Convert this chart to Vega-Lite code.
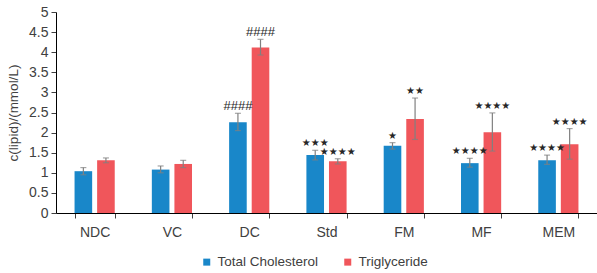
{
  "$schema": "https://vega.github.io/schema/vega-lite/v6.json",
  "width": 541,
  "height": 201,
  "autosize": "none",
  "padding": {"left": 56, "top": 12, "right": 0, "bottom": 60},
  "background": "white",
  "config": {
    "view": {"stroke": null},
    "font": "Liberation Sans",
    "axis": {"grid": false, "domainColor": "#000000", "tickColor": "#404040", "labelColor": "#404040", "titleColor": "#404040", "labelFontSize": 14, "titleFontSize": 13.5, "titleFontWeight": "normal", "labelFont": "Liberation Sans", "titleFont": "Liberation Sans"}
  },
  "data": {
    "values": [
      {"group": "NDC", "series": "Total Cholesterol", "value": 1.04, "lo": 0.95, "hi": 1.13, "mark": ""},
      {"group": "NDC", "series": "Triglyceride", "value": 1.31, "lo": 1.25, "hi": 1.37, "mark": ""},
      {"group": "VC", "series": "Total Cholesterol", "value": 1.08, "lo": 1.0, "hi": 1.17, "mark": ""},
      {"group": "VC", "series": "Triglyceride", "value": 1.22, "lo": 1.13, "hi": 1.31, "mark": ""},
      {"group": "DC", "series": "Total Cholesterol", "value": 2.26, "lo": 2.05, "hi": 2.48, "mark": "####"},
      {"group": "DC", "series": "Triglyceride", "value": 4.12, "lo": 3.93, "hi": 4.32, "mark": "####"},
      {"group": "Std", "series": "Total Cholesterol", "value": 1.44, "lo": 1.32, "hi": 1.56, "mark": "★★★"},
      {"group": "Std", "series": "Triglyceride", "value": 1.29, "lo": 1.22, "hi": 1.35, "mark": "★★★★"},
      {"group": "FM", "series": "Total Cholesterol", "value": 1.67, "lo": 1.59, "hi": 1.75, "mark": "★"},
      {"group": "FM", "series": "Triglyceride", "value": 2.34, "lo": 1.83, "hi": 2.86, "mark": "★★"},
      {"group": "MF", "series": "Total Cholesterol", "value": 1.24, "lo": 1.14, "hi": 1.36, "mark": "★★★★"},
      {"group": "MF", "series": "Triglyceride", "value": 2.01, "lo": 1.54, "hi": 2.49, "mark": "★★★★"},
      {"group": "MEM", "series": "Total Cholesterol", "value": 1.31, "lo": 1.21, "hi": 1.44, "mark": "★★★★"},
      {"group": "MEM", "series": "Triglyceride", "value": 1.71, "lo": 1.34, "hi": 2.1, "mark": "★★★★"}
    ]
  },
  "encoding": {
    "x": {
      "field": "group", "type": "nominal", "sort": ["NDC", "VC", "DC", "Std", "FM", "MF", "MEM"],
      "scale": {"paddingInner": 0.48, "paddingOuter": 0.24},
      "axis": {"title": null, "labelAngle": 0, "tickBand": "extent", "tickSize": 5, "labelPadding": 7, "domainColor": "#000000"}
    },
    "xOffset": {"field": "series", "type": "nominal", "scale": {"paddingInner": 0.22}}
  },
  "layer": [
    {
      "mark": {"type": "bar"},
      "encoding": {
        "y": {
          "field": "value", "type": "quantitative",
          "scale": {"domain": [0, 5], "nice": false, "zero": true},
          "axis": {"title": "c(lipid)/(mmol/L)", "values": [0, 0.5, 1, 1.5, 2, 2.5, 3, 3.5, 4, 4.5, 5], "format": "~g", "labelOverlap": false, "tickSize": 5, "titlePadding": 8, "labelPadding": 3}
        },
        "color": {
          "field": "series", "type": "nominal",
          "scale": {"domain": ["Total Cholesterol", "Triglyceride"], "range": ["#1987c9", "#f0565b"]},
          "legend": {"title": null, "orient": "none", "direction": "horizontal", "legendX": 144, "legendY": 243, "symbolType": "square", "symbolSize": 49, "symbolStrokeWidth": 0, "labelFontSize": 13.5, "labelColor": "#404040", "labelFont": "Liberation Sans", "columnPadding": 22, "labelOffset": 4}
        }
      }
    },
    {
      "mark": {"type": "rule", "color": "#808080", "strokeWidth": 1.2},
      "encoding": {"y": {"field": "lo", "type": "quantitative", "axis": {"title": "c(lipid)/(mmol/L)", "values": [0, 0.5, 1, 1.5, 2, 2.5, 3, 3.5, 4, 4.5, 5], "format": "~g", "labelOverlap": false, "tickSize": 5, "titlePadding": 8, "labelPadding": 3}}, "y2": {"field": "hi"}}
    },
    {
      "mark": {"type": "tick", "color": "#808080", "size": 6, "thickness": 1.2},
      "encoding": {"y": {"field": "lo", "type": "quantitative", "axis": {"title": "c(lipid)/(mmol/L)", "values": [0, 0.5, 1, 1.5, 2, 2.5, 3, 3.5, 4, 4.5, 5], "format": "~g", "labelOverlap": false, "tickSize": 5, "titlePadding": 8, "labelPadding": 3}}}
    },
    {
      "mark": {"type": "tick", "color": "#808080", "size": 6, "thickness": 1.2},
      "encoding": {"y": {"field": "hi", "type": "quantitative", "axis": {"title": "c(lipid)/(mmol/L)", "values": [0, 0.5, 1, 1.5, 2, 2.5, 3, 3.5, 4, 4.5, 5], "format": "~g", "labelOverlap": false, "tickSize": 5, "titlePadding": 8, "labelPadding": 3}}}
    },
    {
      "transform": [{"filter": "datum.mark == '####'"}],
      "mark": {"type": "text", "font": "Liberation Sans", "fontSize": 13, "baseline": "middle", "dy": -7, "color": "#262626"},
      "encoding": {"y": {"field": "hi", "type": "quantitative", "axis": {"title": "c(lipid)/(mmol/L)", "values": [0, 0.5, 1, 1.5, 2, 2.5, 3, 3.5, 4, 4.5, 5], "format": "~g", "labelOverlap": false, "tickSize": 5, "titlePadding": 8, "labelPadding": 3}}, "text": {"field": "mark"}}
    },
    {
      "transform": [{"filter": "datum.mark != '####' && datum.mark != ''"}],
      "mark": {"type": "text", "font": "DejaVu Sans", "fontSize": 10, "baseline": "middle", "dy": -7, "color": "#262626"},
      "encoding": {"y": {"field": "hi", "type": "quantitative", "axis": {"title": "c(lipid)/(mmol/L)", "values": [0, 0.5, 1, 1.5, 2, 2.5, 3, 3.5, 4, 4.5, 5], "format": "~g", "labelOverlap": false, "tickSize": 5, "titlePadding": 8, "labelPadding": 3}}, "text": {"field": "mark"}}
    }
  ]
}
